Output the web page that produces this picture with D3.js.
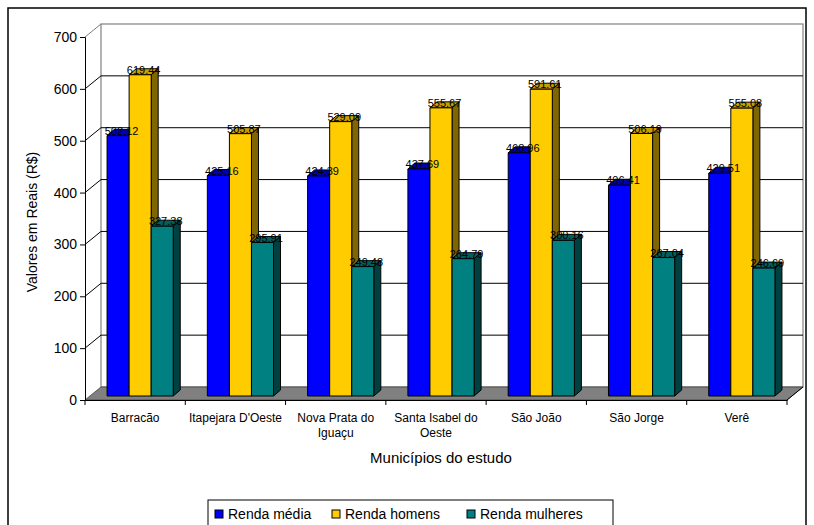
<!DOCTYPE html>
<html>
<head>
<meta charset="utf-8">
<script src="https://cdn.jsdelivr.net/npm/d3@7"></script>
<style>
  html, body { margin: 0; padding: 0; background: #fff; }
  svg { display: block; }
  text { font-family: "Liberation Sans", Arial, sans-serif; fill: #000; }
</style>
</head>
<body>
<svg id="chart" width="814" height="525"></svg>
<script>
// Income by municipality (R$)
const categories = ["Barracão", "Itapejara D'Oeste", "Nova Prata do Iguaçu", "Santa Isabel do Oeste", "São João", "São Jorge", "Verê"];
const categoryLines = [["Barracão"], ["Itapejara D'Oeste"], ["Nova Prata do", "Iguaçu"], ["Santa Isabel do", "Oeste"], ["São João"], ["São Jorge"], ["Verê"]];
const seriesNames = ["Renda média", "Renda homens", "Renda mulheres"];
const rendaMedia    = [502.12, 425.16, 424.39, 437.69, 468.96, 406.41, 429.51];
const rendaHomens   = [619.44, 505.87, 529.09, 555.67, 591.61, 506.19, 555.08];
const rendaMulheres = [327.38, 295.91, 249.48, 264.79, 300.16, 267.04, 246.69];
const yTicks = [0, 100, 200, 300, 400, 500, 600, 700];

const seriesValues = [rendaMedia, rendaHomens, rendaMulheres];
const fronts = ["#0000FF", "#FFCC00", "#008080"];
const tops   = ["#0000B3", "#C9A000", "#006060"];
const sides  = ["#000080", "#806600", "#004040"];

const svg = d3.select("#chart");

// outer frame
svg.append("rect").attr("x", 8).attr("y", 8).attr("width", 798).attr("height", 540)
  .attr("fill", "none").attr("stroke", "#000").attr("stroke-width", 1.5);

const x = d3.scaleBand().domain(categories).range([85, 787]);
const inner = d3.scaleBand().domain(seriesNames)
  .range([x.bandwidth() * 0.17, x.bandwidth() * 0.83]);
const y = d3.scaleLinear().domain([0, 700]).range([400, 37]);

// 3D offsets: wall depth, bar front-face shift, bar depth
const wdx = 16, wdy = -13;
const bfx = 5, bfy = -4;
const bdx = 7, bdy = -6;

const x0 = x.range()[0], x1 = x.range()[1];
const y0 = y(0), yTop = y(700);

// back wall
svg.append("rect").attr("x", x0 + wdx).attr("y", yTop + wdy)
  .attr("width", x1 - x0).attr("height", y0 - yTop)
  .attr("fill", "#fff").attr("stroke", "#808080").attr("stroke-width", 1.2);

// gridlines on back wall and side wall
const grid = svg.append("g");
yTicks.filter(t => t > 0 && t < 700).forEach(t => {
  grid.append("line").attr("x1", x0 + wdx).attr("x2", x1 + wdx)
    .attr("y1", y(t) + wdy).attr("y2", y(t) + wdy).attr("stroke", "#000");
});
yTicks.filter(t => t > 0).forEach(t => {
  grid.append("line").attr("x1", x0).attr("y1", y(t))
    .attr("x2", x0 + wdx).attr("y2", y(t) + wdy)
    .attr("stroke", t === 700 ? "#808080" : "#000");
});

// floor
svg.append("polygon")
  .attr("points", [[x0, y0], [x1, y0], [x1 + wdx, y0 + wdy], [x0 + wdx, y0 + wdy]].map(p => p.join(",")).join(" "))
  .attr("fill", "#808080").attr("stroke", "#404040").attr("stroke-width", 0.8);

// bars
const bars = svg.append("g");
categories.forEach((c, ci) => {
  seriesNames.forEach((s, si) => {
    const v = seriesValues[si][ci];
    const bx = x(c) + inner(s) + bfx;
    const bw = inner.bandwidth();
    const by = y(v) + bfy;
    const bb = y(0) + bfy;
    const g = bars.append("g").attr("stroke", "#000").attr("stroke-width", 1).attr("stroke-linejoin", "round");
    g.append("polygon")
      .attr("points", [[bx, by], [bx + bw, by], [bx + bw + bdx, by + bdy], [bx + bdx, by + bdy]].map(p => p.join(",")).join(" "))
      .attr("fill", tops[si]);
    g.append("polygon")
      .attr("points", [[bx + bw, by], [bx + bw + bdx, by + bdy], [bx + bw + bdx, bb + bdy], [bx + bw, bb]].map(p => p.join(",")).join(" "))
      .attr("fill", sides[si]);
    g.append("rect").attr("x", bx).attr("y", by).attr("width", bw).attr("height", bb - by)
      .attr("fill", fronts[si]);
  });
});

// value labels
const labels = svg.append("g").attr("font-size", 11).attr("text-anchor", "middle");
categories.forEach((c, ci) => {
  seriesNames.forEach((s, si) => {
    const v = seriesValues[si][ci];
    labels.append("text")
      .attr("x", x(c) + inner(s) + bfx + inner.bandwidth() / 2 + bdx / 2)
      .attr("y", y(v) + bfy - 1)
      .text(v.toFixed(2));
  });
});

// y axis
const yAxis = svg.append("g").attr("transform", `translate(${x0},0)`)
  .call(d3.axisLeft(y).tickValues(yTicks).tickSize(5).tickPadding(3).tickFormat(d3.format("d")));
yAxis.attr("font-size", 14).attr("font-family", null);
yAxis.selectAll("line, path").attr("stroke", "#000");

// x axis: band boundary ticks, labels centered in bands
const xAxis = svg.append("g").attr("transform", `translate(0,${y0})`)
  .call(d3.axisBottom(x).tickSize(0).tickPadding(0).tickSizeOuter(0));
xAxis.attr("font-size", 12).attr("font-family", null);
xAxis.select(".domain").attr("stroke", "#000");
xAxis.selectAll(".tick text").each(function (d, i) {
  const t = d3.select(this).text(null).attr("y", 0).attr("dy", null);
  categoryLines[i].forEach((line, li) => {
    t.append("tspan").attr("x", 0).attr("y", 22 + li * 15).text(line);
  });
});
categories.concat([null]).forEach(c => {
  const bx = c === null ? x1 : x(c);
  xAxis.append("line").attr("x1", bx).attr("x2", bx).attr("y1", 0).attr("y2", 5).attr("stroke", "#000");
});
// right edge of floor
svg.append("line").attr("x1", x1).attr("y1", y0).attr("x2", x1 + wdx).attr("y2", y0 + wdy).attr("stroke", "#000");

// axis titles
svg.append("text")
  .attr("x", (x0 + x1) / 2 + 5).attr("y", 463).attr("text-anchor", "middle")
  .attr("font-size", 15)
  .text("Municípios do estudo");
svg.append("text")
  .attr("transform", "translate(37,222) rotate(-90)").attr("text-anchor", "middle")
  .attr("font-size", 14).text("Valores em Reais (R$)");

// legend
const legend = svg.append("g");
legend.append("rect").attr("x", 208).attr("y", 500).attr("width", 405).attr("height", 40)
  .attr("fill", "#fff").attr("stroke", "#000").attr("stroke-width", 1);
const legendX = [215, 332, 467];
seriesNames.forEach((s, si) => {
  legend.append("rect").attr("x", legendX[si]).attr("y", 510).attr("width", 8).attr("height", 8)
    .attr("fill", fronts[si]).attr("stroke", "#000");
  legend.append("text").attr("x", legendX[si] + 13).attr("y", 519).attr("font-size", 14).text(s);
});
</script>
</body>
</html>
